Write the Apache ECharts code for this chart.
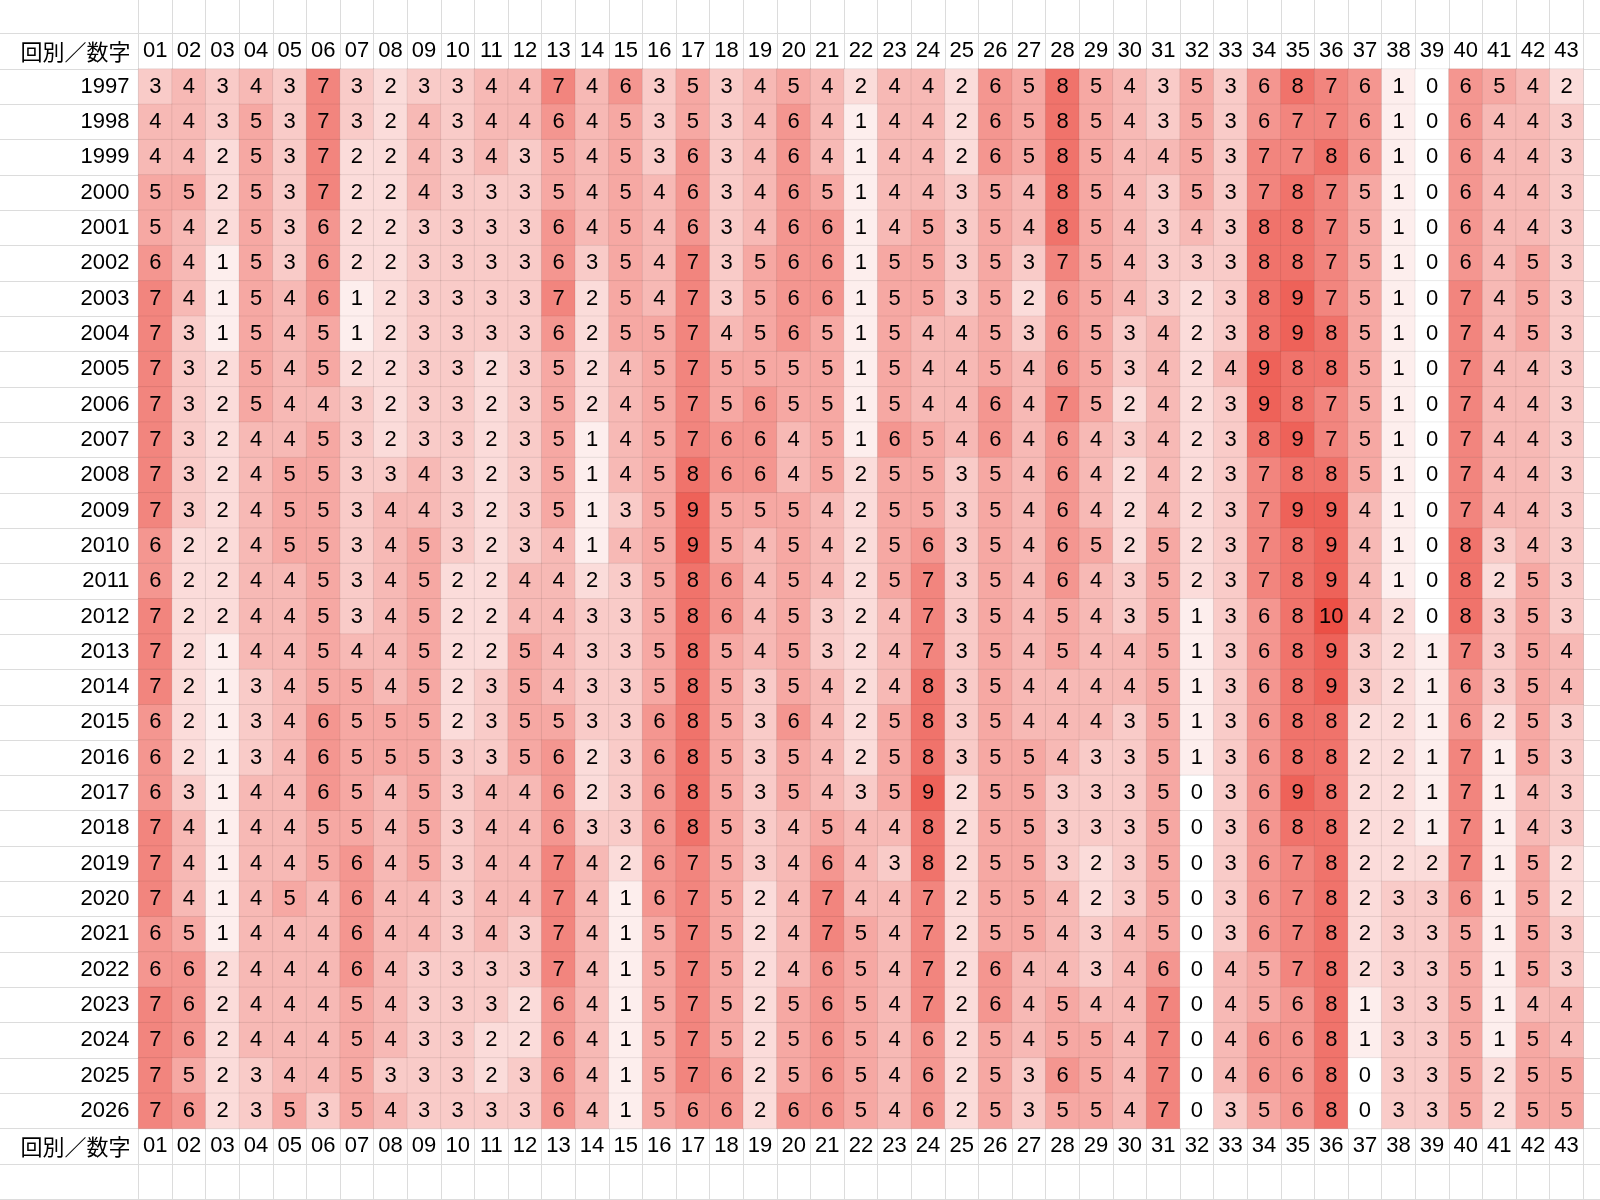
<!DOCTYPE html>
<html>
<head>
<meta charset="utf-8">
<style>
html,body{margin:0;padding:0;background:#fff;}
#chart{width:1600px;height:1200px;}
</style>
<script src="https://cdn.jsdelivr.net/npm/echarts@6/dist/echarts.min.js"></script>
</head>
<body>
<div id="chart"></div>
<script>
const numbers = ['01','02','03','04','05','06','07','08','09','10','11','12','13','14','15','16','17','18','19','20','21','22','23','24','25','26','27','28','29','30','31','32','33','34','35','36','37','38','39','40','41','42','43'];
const years = ['1997','1998','1999','2000','2001','2002','2003','2004','2005','2006','2007','2008','2009','2010','2011','2012','2013','2014','2015','2016','2017','2018','2019','2020','2021','2022','2023','2024','2025','2026'];
const headerText = '回別／数字';

const y1997 = [3,4,3,4,3,7,3,2,3,3,4,4, 7,4,6,3,5,3,4,5,4,2,4,4,2,6,5,8, 5,4,3,5,3,6,8,7,6,1,0,6,5,4,2];
const y1998 = [4,4,3,5,3,7,3,2,4,3,4,4, 6,4,5,3,5,3,4,6,4,1,4,4,2,6,5,8, 5,4,3,5,3,6,7,7,6,1,0,6,4,4,3];
const y1999 = [4,4,2,5,3,7,2,2,4,3,4,3, 5,4,5,3,6,3,4,6,4,1,4,4,2,6,5,8, 5,4,4,5,3,7,7,8,6,1,0,6,4,4,3];
const y2000 = [5,5,2,5,3,7,2,2,4,3,3,3, 5,4,5,4,6,3,4,6,5,1,4,4,3,5,4,8, 5,4,3,5,3,7,8,7,5,1,0,6,4,4,3];
const y2001 = [5,4,2,5,3,6,2,2,3,3,3,3, 6,4,5,4,6,3,4,6,6,1,4,5,3,5,4,8, 5,4,3,4,3,8,8,7,5,1,0,6,4,4,3];
const y2002 = [6,4,1,5,3,6,2,2,3,3,3,3, 6,3,5,4,7,3,5,6,6,1,5,5,3,5,3,7, 5,4,3,3,3,8,8,7,5,1,0,6,4,5,3];
const y2003 = [7,4,1,5,4,6,1,2,3,3,3,3, 7,2,5,4,7,3,5,6,6,1,5,5,3,5,2,6, 5,4,3,2,3,8,9,7,5,1,0,7,4,5,3];
const y2004 = [7,3,1,5,4,5,1,2,3,3,3,3, 6,2,5,5,7,4,5,6,5,1,5,4,4,5,3,6, 5,3,4,2,3,8,9,8,5,1,0,7,4,5,3];
const y2005 = [7,3,2,5,4,5,2,2,3,3,2,3, 5,2,4,5,7,5,5,5,5,1,5,4,4,5,4,6, 5,3,4,2,4,9,8,8,5,1,0,7,4,4,3];
const y2006 = [7,3,2,5,4,4,3,2,3,3,2,3, 5,2,4,5,7,5,6,5,5,1,5,4,4,6,4,7, 5,2,4,2,3,9,8,7,5,1,0,7,4,4,3];
const y2007 = [7,3,2,4,4,5,3,2,3,3,2,3, 5,1,4,5,7,6,6,4,5,1,6,5,4,6,4,6, 4,3,4,2,3,8,9,7,5,1,0,7,4,4,3];
const y2008 = [7,3,2,4,5,5,3,3,4,3,2,3, 5,1,4,5,8,6,6,4,5,2,5,5,3,5,4,6, 4,2,4,2,3,7,8,8,5,1,0,7,4,4,3];
const y2009 = [7,3,2,4,5,5,3,4,4,3,2,3, 5,1,3,5,9,5,5,5,4,2,5,5,3,5,4,6, 4,2,4,2,3,7,9,9,4,1,0,7,4,4,3];
const y2010 = [6,2,2,4,5,5,3,4,5,3,2,3, 4,1,4,5,9,5,4,5,4,2,5,6,3,5,4,6, 5,2,5,2,3,7,8,9,4,1,0,8,3,4,3];
const y2011 = [6,2,2,4,4,5,3,4,5,2,2,4, 4,2,3,5,8,6,4,5,4,2,5,7,3,5,4,6, 4,3,5,2,3,7,8,9,4,1,0,8,2,5,3];
const y2012 = [7,2,2,4,4,5,3,4,5,2,2,4, 4,3,3,5,8,6,4,5,3,2,4,7,3,5,4,5, 4,3,5,1,3,6,8,10,4,2,0,8,3,5,3];
const y2013 = [7,2,1,4,4,5,4,4,5,2,2,5, 4,3,3,5,8,5,4,5,3,2,4,7,3,5,4,5, 4,4,5,1,3,6,8,9,3,2,1,7,3,5,4];
const y2014 = [7,2,1,3,4,5,5,4,5,2,3,5, 4,3,3,5,8,5,3,5,4,2,4,8,3,5,4,4, 4,4,5,1,3,6,8,9,3,2,1,6,3,5,4];
const y2015 = [6,2,1,3,4,6,5,5,5,2,3,5, 5,3,3,6,8,5,3,6,4,2,5,8,3,5,4,4, 4,3,5,1,3,6,8,8,2,2,1,6,2,5,3];
const y2016 = [6,2,1,3,4,6,5,5,5,3,3,5, 6,2,3,6,8,5,3,5,4,2,5,8,3,5,5,4, 3,3,5,1,3,6,8,8,2,2,1,7,1,5,3];
const y2017 = [6,3,1,4,4,6,5,4,5,3,4,4, 6,2,3,6,8,5,3,5,4,3,5,9,2,5,5,3, 3,3,5,0,3,6,9,8,2,2,1,7,1,4,3];
const y2018 = [7,4,1,4,4,5,5,4,5,3,4,4, 6,3,3,6,8,5,3,4,5,4,4,8,2,5,5,3, 3,3,5,0,3,6,8,8,2,2,1,7,1,4,3];
const y2019 = [7,4,1,4,4,5,6,4,5,3,4,4, 7,4,2,6,7,5,3,4,6,4,3,8,2,5,5,3, 2,3,5,0,3,6,7,8,2,2,2,7,1,5,2];
const y2020 = [7,4,1,4,5,4,6,4,4,3,4,4, 7,4,1,6,7,5,2,4,7,4,4,7,2,5,5,4, 2,3,5,0,3,6,7,8,2,3,3,6,1,5,2];
const y2021 = [6,5,1,4,4,4,6,4,4,3,4,3, 7,4,1,5,7,5,2,4,7,5,4,7,2,5,5,4, 3,4,5,0,3,6,7,8,2,3,3,5,1,5,3];
const y2022 = [6,6,2,4,4,4,6,4,3,3,3,3, 7,4,1,5,7,5,2,4,6,5,4,7,2,6,4,4, 3,4,6,0,4,5,7,8,2,3,3,5,1,5,3];
const y2023 = [7,6,2,4,4,4,5,4,3,3,3,2, 6,4,1,5,7,5,2,5,6,5,4,7,2,6,4,5, 4,4,7,0,4,5,6,8,1,3,3,5,1,4,4];
const y2024 = [7,6,2,4,4,4,5,4,3,3,2,2, 6,4,1,5,7,5,2,5,6,5,4,6,2,5,4,5, 5,4,7,0,4,6,6,8,1,3,3,5,1,5,4];
const y2025 = [7,5,2,3,4,4,5,3,3,3,2,3, 6,4,1,5,7,6,2,5,6,5,4,6,2,5,3,6, 5,4,7,0,4,6,6,8,0,3,3,5,2,5,5];
const y2026 = [7,6,2,3,5,3,5,4,3,3,3,3, 6,4,1,5,6,6,2,6,6,5,4,6,2,5,3,5, 5,4,7,0,3,5,6,8,0,3,3,5,2,5,5];

const rows = [y1997,y1998,y1999,y2000,y2001,y2002,y2003,y2004,y2005,y2006,y2007,y2008,y2009,y2010,y2011,y2012,y2013,y2014,y2015,y2016,y2017,y2018,y2019,y2020,y2021,y2022,y2023,y2024,y2025,y2026];

const data = [];
rows.forEach((r, i) => r.forEach((v, j) => data.push([j, i, v])));

const LATIN = '"Liberation Sans", Arial, sans-serif';
const CJK = '"Noto Sans CJK JP", sans-serif';
const GRIDC = '#dcdcdc';
const FS = 22;

const colW = 33.6, rowH = 35.32;
const gLeft = 138.5, gTop = 69;

const chart = echarts.init(document.getElementById('chart'), null, {renderer: 'canvas'});
const headerAxis = (pos) => ({
  type: 'category', gridIndex: 0, position: pos, data: numbers,
  axisLine: {show: false}, axisTick: {show: false}, splitLine: {show: false},
  axisLabel: {margin: rowH / 2, verticalAlign: 'middle', fontSize: FS, color: '#000', fontFamily: LATIN, interval: 0}
});
chart.setOption({
  animation: false,
  backgroundColor: '#ffffff',
  grid: [
    {left: gLeft, top: gTop, width: colW * 43, height: rowH * 30, outerBoundsMode: 'none', containLabel: false},
    {left: 0, top: gTop - 2 * rowH, width: 1600, height: rowH * 34, outerBoundsMode: 'none', containLabel: false},
    {left: gLeft, top: 0, width: 1600 - gLeft, height: 1200, outerBoundsMode: 'none', containLabel: false}
  ],
  xAxis: [
    headerAxis('top'),
    headerAxis('bottom'),
    {type: 'value', gridIndex: 1, show: false, min: 0, max: 1},
    {type: 'value', gridIndex: 2, min: 0, max: (1600 - gLeft) / colW, interval: 1,
     axisLine: {show: false}, axisTick: {show: false}, axisLabel: {show: false},
     splitLine: {show: true, lineStyle: {color: GRIDC, width: 1}}}
  ],
  yAxis: [
    {type: 'category', gridIndex: 0, data: years, inverse: true,
     axisLine: {show: false}, axisTick: {show: false}, splitLine: {show: false},
     axisLabel: {margin: 9, fontSize: FS, color: '#000', fontFamily: LATIN}},
    {type: 'value', gridIndex: 1, min: 0, max: 34, interval: 1, inverse: true,
     axisLine: {show: false}, axisTick: {show: false}, axisLabel: {show: false},
     splitLine: {show: true, lineStyle: {color: GRIDC, width: 1}}},
    {type: 'value', gridIndex: 2, show: false, min: 0, max: 1}
  ],
  graphic: [
    {type: 'text', x: gLeft - 8, y: gTop - rowH / 2, style: {text: headerText, fontSize: FS, fontFamily: CJK, fill: '#000', align: 'right', verticalAlign: 'middle'}},
    {type: 'text', x: gLeft - 8, y: gTop + rowH * 30 + rowH / 2, style: {text: headerText, fontSize: FS, fontFamily: CJK, fill: '#000', align: 'right', verticalAlign: 'middle'}}
  ],
  visualMap: {
    show: false, type: 'continuous', min: 0, max: 10, seriesIndex: 0, dimension: 2,
    inRange: {color: ['#ffffff', '#ec5046']}
  },
  series: [{
    type: 'heatmap', xAxisIndex: 0, yAxisIndex: 0, data: data,
    label: {show: true, color: '#000', fontSize: FS, fontFamily: LATIN},
    itemStyle: {borderColor: 'rgba(0,0,0,0.07)', borderWidth: 1},
    emphasis: {disabled: true}
  }]
});
</script>
</body>
</html>
